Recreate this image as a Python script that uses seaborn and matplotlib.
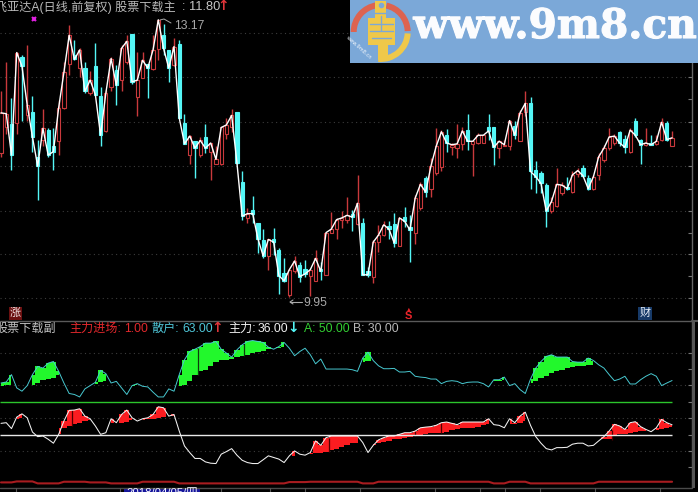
import numpy as np
import pandas as pd
import matplotlib
matplotlib.use("Agg")
import matplotlib.pyplot as plt
import matplotlib.patheffects as pe
from matplotlib.patches import Rectangle, Wedge, Polygon
import seaborn as sns

# ---- price panel ----
close_px = [12.09,12.08,11.60,12.79,12.63,12.18,11.81,11.47,11.91,11.60,11.64,12.15,12.56,12.99,12.71,12.82,12.34,12.47,12.30,11.83,12.32,12.72,12.41,12.84,12.92,12.45,12.47,12.70,12.61,12.82,13.17,12.84,12.61,12.86,12.03,11.73,11.82,11.68,11.77,11.68,11.74,11.55,11.92,11.95,12.06,11.51,10.89,10.92,10.92,10.63,10.43,10.62,10.59,10.20,10.14,10.27,10.37,10.19,10.22,10.27,10.40,10.25,10.70,10.74,10.85,10.87,10.90,10.88,11.04,10.21,10.21,10.59,10.67,10.79,10.74,10.58,10.87,10.83,10.73,11.10,11.26,11.17,11.47,11.70,11.87,11.74,11.72,11.73,11.88,11.76,11.76,11.83,11.83,11.88,11.69,11.76,11.72,12.00,11.83,12.09,12.20,11.41,11.35,11.27,10.95,11.06,11.26,11.25,11.21,11.37,11.42,11.36,11.21,11.35,11.58,11.68,11.81,11.82,11.74,11.69,11.89,11.83,11.72,11.74,11.72,11.76,11.98,11.78,11.80]
open_px = [11.62,11.93,11.96,11.97,12.74,12.06,12.10,11.58,11.77,11.89,11.70,11.76,12.15,12.66,12.76,12.61,12.61,12.32,12.63,12.29,11.88,12.39,12.59,12.47,12.68,13.01,12.27,12.50,12.66,12.60,12.83,12.99,12.82,12.65,12.89,11.97,11.60,11.76,11.60,11.81,11.64,11.50,11.50,11.85,11.93,12.10,11.29,10.87,10.96,10.81,10.61,10.43,10.63,10.50,10.23,9.98,10.25,10.32,10.28,10.20,10.14,10.28,10.21,10.70,10.74,10.85,10.85,10.92,10.80,10.81,10.25,10.19,10.59,10.67,10.78,10.80,10.54,10.88,10.77,10.70,10.98,11.33,11.21,11.39,11.46,11.83,11.69,11.68,11.73,11.89,11.73,11.74,11.74,11.92,11.92,11.68,11.70,11.71,11.94,11.76,12.10,12.21,11.43,11.39,11.25,10.95,11.01,11.16,11.23,11.17,11.38,11.45,11.33,11.21,11.37,11.54,11.68,11.74,11.87,11.79,11.63,11.99,11.78,11.72,11.74,11.73,11.77,11.97,11.70]
high_px = [12.34,12.68,12.26,12.80,12.76,12.88,12.28,11.77,12.14,11.91,11.91,12.24,12.68,13.11,12.94,12.84,12.68,12.57,12.90,12.39,12.36,12.74,12.65,12.88,12.99,13.01,12.80,12.80,12.66,12.99,13.17,13.12,12.82,12.96,12.94,12.08,11.83,11.76,11.81,11.96,11.74,11.70,11.93,12.03,12.13,12.10,11.41,10.98,11.12,10.81,10.74,10.63,10.75,10.52,10.40,10.28,10.43,10.36,10.38,10.28,10.50,10.36,10.71,10.94,10.87,10.95,11.11,10.96,11.37,10.87,10.30,10.61,10.79,10.83,10.84,10.93,10.88,11.00,10.90,11.14,11.29,11.36,11.56,11.91,11.89,11.90,11.74,11.96,11.92,12.08,11.76,11.86,11.83,12.08,11.93,11.77,11.78,12.01,11.99,12.12,12.34,12.27,11.53,11.41,11.27,11.11,11.45,11.29,11.35,11.41,11.45,11.48,11.37,11.37,11.62,11.72,11.91,11.85,11.88,11.83,11.91,12.03,11.79,11.91,11.83,11.83,12.03,12.00,11.88]
low_px = [11.58,11.85,11.43,11.85,11.99,11.99,11.64,11.08,11.70,11.58,11.43,11.60,12.14,12.53,12.70,12.51,12.32,12.30,12.30,11.70,11.87,12.34,12.18,12.34,12.66,12.43,12.05,12.50,12.26,12.59,12.70,12.76,12.45,12.63,12.03,11.73,11.50,11.33,11.58,11.62,11.31,11.50,11.48,11.79,11.87,11.50,10.85,10.81,10.81,10.46,10.40,10.26,10.44,9.99,10.13,9.95,10.23,10.13,10.19,9.96,10.14,10.15,10.21,10.69,10.63,10.75,10.81,10.72,10.79,10.21,10.18,10.12,10.47,10.66,10.62,10.53,10.54,10.77,10.36,10.57,10.96,11.11,11.11,11.37,11.41,11.64,11.60,11.57,11.66,11.66,11.36,11.73,11.74,11.77,11.48,11.57,11.70,11.66,11.79,11.76,12.05,11.21,11.16,11.16,10.77,10.93,11.00,11.14,11.19,11.16,11.35,11.35,11.19,11.20,11.31,11.52,11.66,11.72,11.70,11.62,11.62,11.81,11.50,11.70,11.72,11.72,11.76,11.76,11.70]
price_grid = [13.02, 12.51, 11.98, 11.47, 10.95, 10.45, 9.94]
price_minor = [12.76, 12.25, 11.72, 11.21, 10.70, 10.20]

# ---- indicator panel ----
retail = [61.5,62.1,66.6,58.5,56.5,59.9,66.6,71.6,70.6,73.6,74.6,68.6,61.5,55.1,54.5,53.0,57.9,59.9,61.9,69.2,67.2,61.5,62.5,58.5,54.5,59.9,61.1,59.5,59.1,55.9,53.0,53.0,57.9,56.5,66.6,75.7,80.7,82.1,83.7,85.8,85.8,86.8,82.1,79.7,77.3,81.7,84.8,86.8,87.4,86.8,86.2,83.3,82.1,83.7,86.2,82.7,78.1,80.7,82.7,78.7,73.2,76.1,70.0,70.0,70.0,70.0,70.0,69.6,68.6,76.7,80.3,75.2,72.0,70.2,70.2,70.4,68.2,68.2,68.6,65.6,65.1,64.8,63.9,63.9,61.1,62.5,62.9,62.5,61.1,61.9,62.1,62.1,61.1,59.1,63.5,63.5,65.1,59.9,61.1,57.5,55.1,63.9,70.6,74.6,77.7,78.7,77.3,77.3,77.3,74.6,74.2,74.2,76.7,75.2,72.6,70.6,66.6,62.9,63.9,65.6,60.9,60.9,63.5,65.6,67.2,65.6,59.9,61.5,63.0]
nan = float("nan")
retail_floor = [59.5,60.1,60.5,nan,nan,nan,60.5,61.5,63.5,63.9,64.6,66.6,nan,nan,nan,nan,nan,nan,61.1,61.9,62.5,nan,nan,nan,nan,60.5,60.5,nan,nan,nan,nan,nan,nan,nan,59.9,60.5,62.5,66.6,68.6,69.6,72.0,74.6,75.7,75.7,76.1,77.3,78.1,78.7,79.7,80.1,81.3,82.1,82.1,82.7,83.3,nan,nan,nan,nan,nan,nan,nan,nan,nan,nan,nan,nan,nan,nan,74.0,75.2,75.2,nan,nan,nan,nan,nan,nan,nan,nan,nan,nan,nan,nan,nan,nan,nan,nan,nan,nan,nan,nan,nan,nan,62.5,62.5,63.5,nan,nan,nan,nan,61.5,62.9,64.6,65.6,67.6,68.6,69.6,70.6,71.2,71.6,72.0,72.2,72.6,nan,nan,nan,nan,nan,nan,nan,nan,nan,nan,nan,nan,nan,nan,nan]
main = [36.9,37.3,33.7,40.7,42.7,40.3,31.6,28.8,29.2,27.2,24.8,30.2,38.3,44.8,45.0,45.8,41.3,39.7,35.3,30.2,31.2,39.7,37.3,42.3,45.0,40.3,38.3,39.7,40.3,42.3,47.0,46.4,41.3,42.3,32.2,23.1,19.1,15.5,15.5,13.4,12.6,12.4,18.1,19.7,21.5,17.5,14.4,13.0,12.4,12.4,14.7,17.1,16.1,15.1,13.0,17.1,20.1,18.1,17.5,19.1,26.2,23.5,28.2,29.2,29.2,29.2,29.2,29.2,29.2,25.2,19.1,23.5,26.8,28.2,29.2,29.2,30.2,31.2,31.2,32.2,34.2,34.6,34.9,35.7,37.3,37.7,36.9,36.1,37.7,37.7,37.7,37.7,37.7,39.7,36.1,35.7,34.2,39.7,37.3,41.3,43.7,35.7,28.8,24.8,21.5,20.7,22.1,22.1,22.3,24.2,24.8,24.8,23.1,23.5,26.2,28.8,32.2,36.3,35.3,33.2,37.3,37.9,34.9,33.2,31.8,34.2,39.3,37.3,36.0]
main_floor = [nan,nan,nan,39.7,40.3,nan,nan,nan,nan,nan,nan,34.2,33.8,35.3,36.3,37.3,38.3,38.7,nan,nan,nan,37.3,36.9,36.9,37.7,38.9,nan,38.9,39.3,39.7,40.3,40.9,41.3,41.3,nan,nan,nan,nan,nan,nan,nan,nan,nan,nan,nan,nan,nan,nan,nan,nan,nan,nan,nan,nan,nan,16.7,17.1,nan,nan,18.1,18.7,19.1,19.7,20.7,21.5,22.7,23.5,24.8,25.2,nan,nan,24.2,24.8,25.6,26.2,27.2,27.2,27.8,28.8,29.2,29.6,30.2,30.8,30.8,31.2,31.6,32.8,33.2,33.8,34.0,34.3,34.7,35.7,36.3,nan,nan,nan,36.3,36.3,37.3,38.3,nan,nan,nan,nan,nan,nan,nan,nan,nan,nan,nan,nan,nan,26.2,27.2,27.6,29.2,30.2,30.2,30.8,31.6,32.2,32.2,nan,32.8,33.2,34.2,34.8]
entry = [0.9,0.9,0.9,1.5,1.5,1.5,1.5,0.3,0.3,0.3,0.3,0.3,1.3,1.3,1.3,1.3,1.3,0.9,0.9,0.9,0.9,0.3,0.3,0.3,0.3,0.3,0.3,1.3,1.3,1.3,1.3,1.3,1.3,1.3,0.3,0.3,0.3,0.3,0.3,0.3,0.3,0.3,0.3,0.3,0.3,0.3,0.3,0.3,0.3,0.3,0.3,0.3,0.3,0.3,0.3,1.1,1.1,1.1,1.1,1.3,1.3,1.3,1.3,1.3,1.3,1.3,1.3,1.3,1.3,0.3,0.3,0.3,1.3,1.3,1.3,1.3,1.3,1.3,1.3,1.3,1.3,1.3,1.3,1.3,1.3,1.3,1.3,1.3,1.3,1.3,1.3,1.3,1.3,1.3,0.3,0.3,0.3,1.3,1.3,1.3,1.3,0.3,0.3,0.3,0.3,0.3,0.3,0.3,0.3,0.3,0.3,0.3,0.3,0.3,1.3,1.3,1.3,1.3,1.3,1.3,1.3,1.3,1.3,1.3,1.3,1.3,1.3,1.3,1.3]
level_a = 50
level_b = 30
ind_grid = [80, 60, 40, 20]
ind_minor = [70, 50, 30, 10]
green_gaps = [37.5, 46.4]
red_gaps = [13.6, 62.6, 84.0, 79.0, 116.5]

W, H = 698, 492
sns.set_theme(style="dark", rc={"axes.facecolor": "black", "figure.facecolor": "black"})
FONT = ["Liberation Sans", "Noto Sans CJK SC", "DejaVu Sans"]
plt.rcParams["font.family"] = FONT

RED, CYAN, GRID = "#c9393c", "#54f6f6", "#3c3c3c"
fig = plt.figure(figsize=(W / 100, H / 100), dpi=100, facecolor="black")

def axes_px(x0, y0, x1, y1):
    return fig.add_axes([x0 / W, 1 - y1 / H, (x1 - x0) / W, (y1 - y0) / H], facecolor="black")

ax1 = axes_px(0, 0, 692, 320)
ax2 = axes_px(0, 320, 692, 487)
xlim = (-0.19, 131.8)
n = len(close_px)
idx = np.arange(n)
o, c, h, l = map(np.array, (open_px, close_px, high_px, low_px))

for ax, grid, minor in ((ax1, price_grid, price_minor), (ax2, ind_grid, ind_minor)):
    ax.set_xlim(*xlim)
    ax.set_xticks([])
    ax.yaxis.tick_right()
    ax.set_yticks(grid)
    ax.set_yticks(minor, minor=True)
    ax.set_yticklabels([])
    ax.tick_params(axis="y", which="both", direction="in", length=3, width=0.8, color="#777777", right=True, left=False)
    for v in grid:
        ax.axhline(v, color=GRID, lw=0.8, ls=(0, (1, 3)), zorder=0.5)
    for s in ("left", "top", "bottom"):
        ax.spines[s].set_visible(False)
    ax.spines["right"].set_color("#666666")
    ax.spines["right"].set_linewidth(1)
    ax.grid(False)

ax1.set_ylim(9.685, 13.40)
ax2.set_ylim(-1.9, 99.9)

# candles
up = c >= o
for mask, col, face in ((up, RED, "black"), (~up, CYAN, CYAN)):
    top = np.maximum(o, c)[mask]
    bot = np.minimum(o, c)[mask]
    ax1.vlines(idx[mask], top, h[mask], color=col, lw=1, zorder=2)
    ax1.vlines(idx[mask], l[mask], bot, color=col, lw=1, zorder=2)
    ax1.bar(idx[mask], np.maximum(top - bot, 0.012), bottom=bot, width=0.62,
            facecolor=face, edgecolor=col, lw=0.8, zorder=2.5)

frame = pd.DataFrame({"i": idx, "close": c, "retail": retail, "main": main, "entry": entry,
                      "rf": retail_floor, "mf": main_floor})
sns.lineplot(data=frame, x="i", y="close", ax=ax1, color="white", lw=1.0, zorder=3, legend=False)
ax1.set_xlabel(""); ax1.set_ylabel("")

# indicator fills
ax2.fill_between(frame.i, frame.rf, frame.retail, where=frame.rf.notna(), step="mid", color="#22f82c", lw=0, zorder=1.5)
ax2.fill_between(frame.i, frame.mf, frame.main, where=frame.mf.notna(), step="mid", color="#fb1c20", lw=0, zorder=1.5)
ax2.vlines(green_gaps, [66.5, 78], [83, 85], color="#0c3a0c", lw=0.9, zorder=1.8)
ax2.vlines(red_gaps, [35, 19.5, 31, 29, 27], [45, 28, 37, 32, 33], color="#500000", lw=0.9, zorder=1.8)
sns.lineplot(data=frame, x="i", y="retail", ax=ax2, color="#48c8d0", lw=0.7, zorder=3, legend=False)
sns.lineplot(data=frame, x="i", y="main", ax=ax2, color="#f2f2f2", lw=0.75, zorder=3, legend=False)
sns.lineplot(data=frame, x="i", y="entry", ax=ax2, color="#a81c20", lw=1.5, zorder=3, legend=False)
ax2.hlines(level_a, xlim[0], n - 1, color="#2cc52c", lw=1.0, zorder=2.5)
ax2.hlines(level_b, xlim[0], n - 1, color="#e8e8e8", lw=1.0, zorder=2.5)
ax2.set_xlabel(""); ax2.set_ylabel("")

# overlay in pixel coordinates for the terminal furniture
ov = fig.add_axes([0, 0, 1, 1], facecolor="none")
ov.set_xlim(0, W); ov.set_ylim(H, 0); ov.axis("off")

def t(x, y, s, color, size=8.7, **kw):
    ov.text(x, y, s, color=color, fontsize=size, va="center", ha="left", family=FONT, **kw)

def arrow(x, y, color):
    ov.text(x, y, color=color, s=arrow.glyph, fontsize=10, ha="center", va="center",
            fontweight="bold", family=["DejaVu Sans"])

# panel borders
ov.plot([0, 692], [320.5, 320.5], color="#5a5a5a", lw=1)
ov.plot([0, 692], [487.5, 487.5], color="#4a4a4a", lw=1)
ov.add_patch(Rectangle((692, 320), 3, 168, color="#555555", lw=0))
ov.plot([692, 698], [321, 321], color="#555555", lw=1.5)
for x in (16, 120, 221, 270, 305, 360, 435, 480, 505, 540, 595, 660):
    ov.plot([x, x], [488, 492], color="#555555", lw=0.8)

# top caption
t(-5, 7, "飞亚达A(日线,前复权) 股票下载主", "#b8b8b8", 8.7)
t(182, 7, ":", "#b8b8b8", 8.9)
t(189, 7, "11.80", "#c4c4c4", 9.3)
arrow.glyph = "↑"
arrow(223, 6.5, "#e0353a")
ov.plot([34], [18.5], marker="x", color="#e020e0", ms=3.5, mew=1.5, zorder=6)

# extreme labels
ov.plot([160, 164, 171], [20, 19, 23], color="#aaaaaa", lw=0.7)
t(174, 26, "13.17", "#a8a8a8", 8.7)
ov.plot([290, 302], [302, 302], color="#aaaaaa", lw=0.8)
ov.plot([293, 290, 293], [300, 302, 304], color="#aaaaaa", lw=0.8)
t(303, 303.5, "9.95", "#a8a8a8", 8.7)

# badges
ov.add_patch(Rectangle((9, 306.5), 13, 13, color="#6b1010", lw=0))
ov.text(15.5, 313, "涨", color="#f0e0e0", fontsize=8, ha="center", va="center", family=FONT)
ov.text(408.5, 316, "S", color="#e8242a", fontsize=8, ha="center", va="center", fontweight="bold", family=FONT)
ov.text(408.5, 309, "▲", color="#e8242a", fontsize=3.5, ha="center", va="center", family=["DejaVu Sans"])
ov.add_patch(Rectangle((638, 306.5), 13.5, 13.5, color="#173a68", lw=0))
ov.text(644.7, 313, "财", color="#e4ecf6", fontsize=8, ha="center", va="center", family=FONT)

# lower caption
t(-4, 329, "股票下载副", "#c0c0c0", 8.7)
t(69, 329, "主力进场:", "#e3282c", 8.7)
t(124, 329, "1.00", "#e3282c", 8.7)
t(152, 329, "散户:", "#4fc6d8", 8.7)
t(182, 329, "63.00", "#4fc6d8", 8.7)
arrow.glyph = "↑"
arrow(217.5, 328, "#e0353a")
t(228, 329, "主力:", "#f0f0f0", 8.7)
t(258, 329, "36.00", "#f0f0f0", 8.7)
arrow.glyph = "↓"
arrow(293, 328, "#54f6f6")
t(304, 329, "A: 50.00", "#33d033", 8.7)
t(353, 329, "B: 30.00", "#b8b8b8", 8.7)

# date box clipped by the picture bottom
ov.add_patch(Rectangle((124, 488.5), 76, 5, color="#15159a", lw=0))
t(126, 494, "2018/04/05/四", "#f0f0ff", 8.2)

# watermark banner
ov.add_patch(Rectangle((350, 0), 348, 63, color="#7ba8d8", lw=0, zorder=7))
cx, cy = 380.7, 32
ov.add_patch(Wedge((cx, cy), 30, 180, 262, width=6, color="#dd6350", lw=0, zorder=8))
ov.add_patch(Wedge((cx, cy), 30, 282, 358, width=6, color="#dd6350", lw=0, zorder=8))
ov.add_patch(Wedge((cx, cy), 30, 3, 95, width=6, color="#efc84a", lw=0, zorder=8))
ov.add_patch(Polygon([(375, 1), (386, 1), (386, 18), (395, 18), (395, 45), (388, 45), (388, 60),
                      (378, 60), (378, 45), (368, 45), (368, 18), (375, 18)],
                     closed=True, color="#efc84a", lw=0, zorder=8))
ov.plot([380.5], [5], marker="o", ms=3.0, color="#7ba8d8", zorder=9)
for x0, x1, yy in ((375, 386, 13), (370, 380, 24), (382, 393, 24), (370, 393, 31), (372, 391, 38)):
    ov.plot([x0, x1], [yy, yy], color="#7ba8d8", lw=1, zorder=9)
ov.plot([381, 381], [16, 30], color="#7ba8d8", lw=1, zorder=9)
ov.text(359, 48, "www.9m8.cn", color="#f2f6fb", fontsize=3.6, rotation=-42, ha="center", va="center",
        family=["DejaVu Sans"], zorder=9)
bt = ov.text(697, 27, "www.9m8.cn", color="#fbfcfe", fontsize=29.3, fontweight="bold", ha="right", va="center",
             family=["DejaVu Serif"], zorder=9)
bt.set_path_effects([pe.withStroke(linewidth=0.8, foreground="#fbfcfe")])

fig.savefig("out.png", dpi=100, facecolor="black")
